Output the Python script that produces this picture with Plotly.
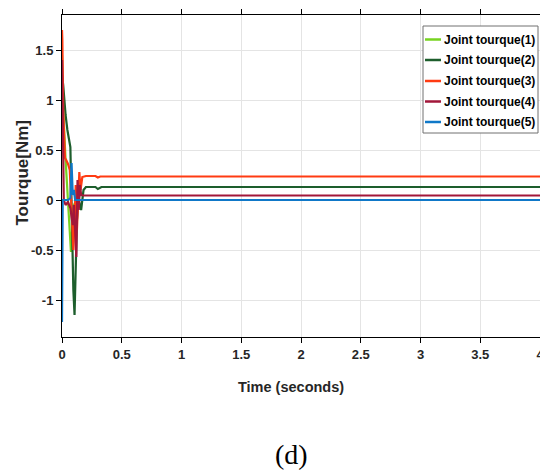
import plotly.graph_objects as go

# ---- data ----
t1 = [0, 0.01, 0.03, 0.05, 0.065, 0.075, 0.085, 0.1, 0.12, 0.15, 4]
y1 = [1.45, 0.9, 0.4, 0.0, -0.35, -0.52, -0.3, -0.05, 0.0, 0.0, 0.0]

t2 = [0, 0.01, 0.03, 0.045, 0.07, 0.08, 0.095, 0.105, 0.115, 0.125, 0.14, 0.16, 0.18, 0.2, 0.28, 0.3, 0.33, 4]
y2 = [1.25, 1.15, 0.85, 0.7, 0.53, -0.2, -0.9, -1.15, -0.6, -0.2, 0.0, -0.1, 0.1, 0.13, 0.13, 0.11, 0.13, 0.13]

t3 = [0, 0.003, 0.01, 0.025, 0.035, 0.05, 0.065, 0.08, 0.095, 0.105, 0.115, 0.125, 0.135, 0.145, 0.155, 0.17, 0.2, 0.28, 0.3, 0.32, 4]
y3 = [1.7, 1.6, 0.9, 0.42, 0.4, 0.36, 0.3, -0.1, -0.5, -0.2, 0.15, -0.3, 0.1, 0.28, 0.1, 0.23, 0.24, 0.24, 0.225, 0.235, 0.235]

t4 = [0, 0.005, 0.015, 0.03, 0.05, 0.07, 0.09, 0.1, 0.11, 0.12, 0.13, 0.14, 0.15, 0.16, 0.18, 4]
y4 = [1.4, 0.6, 0.0, -0.05, -0.02, -0.08, -0.25, -0.05, -0.3, -0.57, 0.2, -0.1, 0.15, 0.05, 0.045, 0.045]

t5 = [0, 0.002, 0.006, 0.05, 0.07, 0.08, 0.09, 0.1, 0.11, 4]
y5 = [-1.22, -0.5, 0.0, 0.0, 0.02, 0.37, 0.05, 0.1, 0.0, 0.0]

names = ["Joint tourque(1)", "Joint tourque(2)", "Joint tourque(3)", "Joint tourque(4)", "Joint tourque(5)"]
colors = ["#77d320", "#1d5e2c", "#ff3b12", "#a2173a", "#0f78c8"]

xticks = [0, 0.5, 1, 1.5, 2, 2.5, 3, 3.5, 4]
xticklabels = ["0", "0.5", "1", "1.5", "2", "2.5", "3", "3.5", "4"]
yticks = [-1, -0.5, 0, 0.5, 1, 1.5]
yticklabels = ["-1", "-0.5", "0", "0.5", "1", "1.5"]

FONT = "Liberation Sans, Arial, sans-serif"
TXT = "#262626"

# plot-area geometry in pixels (figure is 540x470)
L, R, T, B = 62, 540, 15, 337


def px(x):
    return (x - L) / (R - L)


def py(y):
    return (B - y) / (B - T)


fig = go.Figure()
for t, y, n, c in zip([t1, t2, t3, t4, t5], [y1, y2, y3, y4, y5], names, colors):
    fig.add_trace(go.Scatter(x=t, y=y, mode="lines", name=n, showlegend=False,
                             line=dict(color=c, width=2.2)))

axis_common = dict(
    showline=True, linecolor="black", linewidth=1,
    ticks="outside", ticklen=5, tickcolor="black",
    showgrid=True, gridcolor="#e4e4e4", gridwidth=1,
    zeroline=False, automargin=False, ticklabeloverflow="allow",
    tickfont=dict(family=FONT, size=13, color=TXT, weight="bold"),
)

fig.update_layout(
    width=540, height=470,
    margin=dict(l=L, r=540 - R, t=T, b=470 - B, autoexpand=False),
    paper_bgcolor="white", plot_bgcolor="white",
    xaxis=dict(range=[0, 4], tickvals=xticks, ticktext=xticklabels, mirror="ticks",
               **axis_common),
    yaxis=dict(range=[-1.37, 1.85], tickvals=yticks, ticktext=yticklabels, mirror=False,
               **axis_common),
    showlegend=False,
)

# axis titles
fig.add_annotation(text="Time (seconds)", xref="paper", yref="paper", x=px(291), y=py(387),
                   xanchor="center", yanchor="middle", showarrow=False,
                   font=dict(family=FONT, size=14.5, color=TXT, weight="bold"))
fig.add_annotation(text="Tourque[Nm]", xref="paper", yref="paper", x=px(21.5), y=py(173),
                   xanchor="center", yanchor="middle", showarrow=False, textangle=-90,
                   font=dict(family=FONT, size=17, color=TXT, weight="bold"))

# legend box drawn in paper coordinates
fig.add_shape(type="rect", xref="paper", yref="paper",
              x0=px(423), x1=px(538), y0=py(26), y1=py(133),
              line=dict(color="#707070", width=1), fillcolor="white", layer="above")
rows = [39.5, 60, 81, 101.5, 122]
for yy, n, c in zip(rows, names, colors):
    fig.add_shape(type="line", xref="paper", yref="paper",
                  x0=px(425), x1=px(441), y0=py(yy), y1=py(yy),
                  line=dict(color=c, width=2.5), layer="above")
    fig.add_annotation(text=n, xref="paper", yref="paper", x=px(442), y=py(yy),
                       xanchor="left", yanchor="middle", showarrow=False,
                       font=dict(family=FONT, size=12, color="black", weight="bold"))

fig.add_annotation(text="(d)", xref="paper", yref="paper", x=px(291), y=py(454),
                   xanchor="center", yanchor="middle", showarrow=False,
                   font=dict(family="Liberation Serif, Times New Roman, serif", size=28, color="black"))

fig.write_html("out.html", config={"displayModeBar": False},
               post_script="document.body.style.margin='0';document.body.style.overflow='hidden';")
